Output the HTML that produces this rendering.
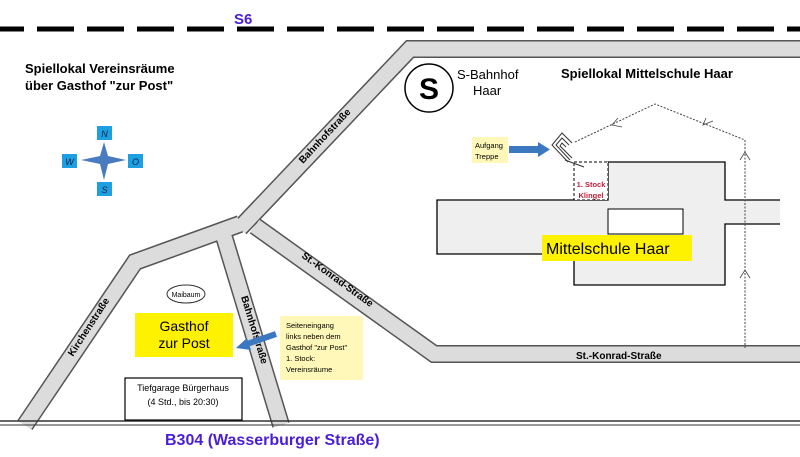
<!DOCTYPE html>
<html><head><meta charset="utf-8"><style>
html,body{margin:0;padding:0;background:#fff}
svg{display:block}
text{font-family:"Liberation Sans",Arial,sans-serif}
</style></head><body>
<svg width="800" height="457" viewBox="0 0 800 457" xmlns="http://www.w3.org/2000/svg">
<rect width="800" height="457" fill="#fff"/>
<line x1="-13" y1="29" x2="800" y2="29" stroke="#000" stroke-width="5" stroke-dasharray="37 13"/>
<text x="234" y="24" font-size="15" font-weight="bold" fill="#4a1ed6">S6</text>

<g fill="none" stroke="#555" stroke-width="18" stroke-linejoin="miter">
<polyline points="800,49 410,49 240,228"/>
<polyline points="240,224 135,262 25,425"/>
<polyline points="222,230 281,425"/>
<polyline points="255,226 434,354 800,354"/>
</g>
<g fill="none" stroke="#dcdcdc" stroke-width="15" stroke-linejoin="miter">
<polyline points="800,49 410,49 240,228"/>
<polyline points="240,224 135,262 25,425"/>
<polyline points="222,230 281,425"/>
<polyline points="255,226 434,354 800,354"/>
</g>

<text x="0" y="0" font-size="10" font-weight="bold" transform="translate(303,164) rotate(-47)">Bahnhofstraße</text>
<text x="0" y="0" font-size="10" font-weight="bold" transform="translate(73,357) rotate(-57)">Kirchenstraße</text>
<text x="0" y="0" font-size="10" font-weight="bold" transform="translate(241,297) rotate(73)">Bahnhofstraße</text>
<text x="0" y="0" font-size="10" font-weight="bold" transform="translate(301,257) rotate(36)">St.-Konrad-Straße</text>
<text x="576" y="359" font-size="10" font-weight="bold">St.-Konrad-Straße</text>

<line x1="0" y1="421" x2="800" y2="421" stroke="#333" stroke-width="1.5"/>
<line x1="0" y1="425" x2="800" y2="425" stroke="#333" stroke-width="1"/>
<text x="165" y="445" font-size="16" font-weight="bold" fill="#4a1ed6">B304 (Wasserburger Straße)</text>

<text x="25" y="73" font-size="13" font-weight="bold">Spiellokal Vereinsräume</text>
<text x="25" y="90" font-size="13" font-weight="bold">über Gasthof "zur Post"</text>
<text x="561" y="78" font-size="13" font-weight="bold">Spiellokal Mittelschule Haar</text>

<polygon points="104,142 108,156 126,160 108,164 104,180 100,164 81,160 100,156" fill="#4a7bc0"/>
<g fill="#1da0e2"><rect x="97" y="126" width="15" height="14"/><rect x="62" y="154" width="15" height="14"/><rect x="128" y="154" width="15" height="14"/><rect x="97" y="182" width="15" height="14"/></g>
<g font-size="9" font-style="italic" fill="#124" text-anchor="middle"><text x="104.5" y="137">N</text><text x="69.5" y="165">W</text><text x="135.5" y="165">O</text><text x="104.5" y="193">S</text></g>

<circle cx="429" cy="88" r="24" fill="#fff" stroke="#000" stroke-width="1.5"/>
<text x="429" y="99" font-size="30" font-weight="bold" text-anchor="middle">S</text>
<text x="457" y="79" font-size="13">S-Bahnhof</text>
<text x="473" y="95" font-size="13">Haar</text>

<polygon points="437,200 608,200 608,162 725,162 725,200 780,200 780,224 725,224 725,263 725,285 574,285 574,254 437,254" fill="#efefef"/>
<polyline points="780,200 725,200 725,162 608,162 608,200 437,200 437,254 574,254 574,285 725,285 725,224 780,224" fill="none" stroke="#000" stroke-width="1.3"/>
<rect x="608" y="209" width="75" height="25" fill="#fff" stroke="#000" stroke-width="1"/>
<rect x="542" y="235" width="150" height="26" fill="#fff200"/>
<text x="546" y="254" font-size="16">Mittelschule Haar</text>
<rect x="574" y="162" width="34" height="38" fill="#fff" stroke="#000" stroke-width="1" stroke-dasharray="3 2"/>
<text x="591" y="187" font-size="7.5" font-weight="bold" fill="#c0203a" text-anchor="middle">1. Stock</text>
<text x="591" y="198" font-size="7.5" font-weight="bold" fill="#c0203a" text-anchor="middle">Klingel</text>
<g fill="none" stroke="#333" stroke-width="1"><polyline points="572,143 562,133 552,145 568,162"/><polyline points="569,145 562,138 556,145 570,160"/><polyline points="566,147 562,143 560,146 572,158"/></g>
<line x1="565" y1="160" x2="584" y2="167" stroke="#333"/>
<rect x="509" y="146" width="30" height="7" fill="#3c78c0"/>
<polygon points="538,142 550,149.5 538,157" fill="#3c78c0"/>
<rect x="472" y="137" width="36" height="26" fill="#fff8b8"/>
<text x="475" y="148" font-size="7.5">Aufgang</text>
<text x="475" y="159" font-size="7.5">Treppe</text>
<polyline points="575,142 655,104 745,140 745,348" fill="none" stroke="#444" stroke-width="1" stroke-dasharray="2 1.5"/>
<g fill="none" stroke="#444" stroke-width="0.8"><polyline points="618,118 612,125 622,127"/><polyline points="706,118 703,125 713,121"/><polyline points="740,160 745,152 750,160"/><polyline points="740,278 745,270 750,278"/></g>

<ellipse cx="186" cy="294" rx="19" ry="9" fill="#fff" stroke="#333" stroke-width="1"/>
<text x="186" y="297" font-size="7" text-anchor="middle">Maibaum</text>
<rect x="135" y="313" width="98" height="44" fill="#fff200"/>
<text x="184" y="331" font-size="14" text-anchor="middle">Gasthof</text>
<text x="184" y="348" font-size="14" text-anchor="middle">zur Post</text>
<line x1="276" y1="334" x2="247" y2="344" stroke="#3c78c0" stroke-width="6"/>
<polygon points="236,348 247,338 251,350" fill="#3c78c0"/>
<rect x="280" y="316" width="83" height="64" fill="#fff8b8"/>
<g font-size="7.5"><text x="286" y="328">Seiteneingang</text><text x="286" y="339">links neben dem</text><text x="286" y="350">Gasthof "zur Post"</text><text x="286" y="361">1. Stock:</text><text x="286" y="372">Vereinsräume</text></g>
<rect x="125" y="378" width="117" height="42" fill="#fff" stroke="#000" stroke-width="1.2"/>
<text x="183" y="391" font-size="9" text-anchor="middle">Tiefgarage Bürgerhaus</text>
<text x="183" y="405" font-size="9" text-anchor="middle">(4 Std., bis 20:30)</text>
</svg>
</body></html>
